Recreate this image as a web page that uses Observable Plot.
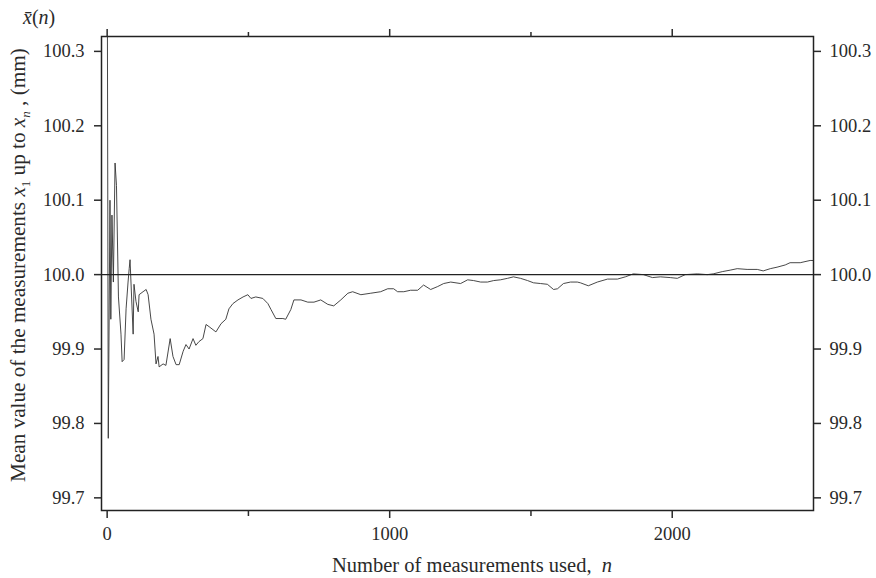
<!DOCTYPE html>
<html><head><meta charset="utf-8">
<script src="https://cdn.jsdelivr.net/npm/d3@7"></script>
<script src="https://cdn.jsdelivr.net/npm/@observablehq/plot@0.6"></script>
<style>
body{margin:0;background:#fff}
svg, svg text, svg g{font-family:"Liberation Serif","Times New Roman",serif !important}
</style>
</head><body><div id="chart"></div>
<script>
// Number of measurements used, n
const nValues = [1,4,10,13,17,22,28,33,40,49,53,60,67,74,78,81,92,95,102,110,113,127,138,145,155,166,173,180,184,198,208,223,233,244,255,269,279,290,304,314,325,339,350,361,385,403,420,431,445,463,481,498,509,526,551,569,580,597,622,632,650,661,686,710,732,756,781,802,827,852,869,898,933,968,993,1014,1028,1050,1074,1099,1120,1145,1170,1191,1216,1251,1276,1297,1322,1346,1368,1392,1417,1438,1463,1488,1509,1534,1558,1580,1594,1615,1640,1664,1675,1703,1735,1771,1806,1834,1862,1898,1930,1958,1993,2018,2046,2089,2124,2145,2177,2205,2230,2265,2301,2322,2347,2371,2400,2417,2453,2488,2498];
// Mean value of the measurements x1 ... xn (mm)
const meanValues = [100.32,99.78,100.10,99.94,100.08,99.99,100.15,100.12,99.97,99.92,99.883,99.886,99.954,99.99,100.008,100.02,99.92,99.987,99.964,99.95,99.973,99.977,99.98,99.973,99.94,99.92,99.88,99.89,99.876,99.88,99.878,99.914,99.89,99.879,99.879,99.897,99.906,99.90,99.914,99.905,99.91,99.914,99.933,99.93,99.923,99.934,99.94,99.954,99.961,99.966,99.97,99.973,99.968,99.97,99.968,99.961,99.953,99.941,99.941,99.94,99.953,99.966,99.966,99.963,99.963,99.966,99.96,99.958,99.966,99.975,99.977,99.973,99.975,99.977,99.981,99.981,99.977,99.977,99.979,99.979,99.986,99.98,99.984,99.988,99.99,99.988,99.993,99.992,99.99,99.99,99.992,99.993,99.995,99.997,99.995,99.992,99.989,99.988,99.987,99.98,99.981,99.988,99.99,99.99,99.989,99.985,99.99,99.994,99.994,99.997,100.001,100.0,99.996,99.997,99.996,99.995,100.0,100.001,100.0,100.001,100.004,100.006,100.008,100.007,100.007,100.005,100.008,100.01,100.013,100.016,100.016,100.019,100.019];
const yTicks = [99.7,99.8,99.9,100.0,100.1,100.2,100.3];
const xMajorTicks = [0,1000,2000];
const xMinorTicks = [500,1500];
const referenceLevel = [100.0];

const data = nValues.map((n,i)=>({n, mean: meanValues[i]}));
const blank = () => "";
const serif = "Liberation Serif";

const plot = Plot.plot({
  width: 876, height: 578,
  marginLeft: 101, marginRight: 63, marginTop: 36, marginBottom: 68,
  style: {fontFamily: serif, fontSize: "18.5px", color: "#2a2a2a", background: "#fff"},
  x: {domain: [-20, 2500]},
  y: {domain: [99.683, 100.32]},
  marks: [
    Plot.line(data, {x: "n", y: "mean", stroke: "#333", strokeWidth: 0.9, clip: true}),
    Plot.ruleY(referenceLevel, {stroke: "#222", strokeWidth: 1.3}),
    Plot.frame({stroke: "#222", strokeWidth: 1.5}),
    Plot.axisY(yTicks, {anchor: "left", tickSize: 7, tickPadding: 10, strokeWidth: 1.5, fontSize: 18.5, fontFamily: serif, tickFormat: d => d.toFixed(1), label: null}),
    Plot.axisY(yTicks, {anchor: "right", tickSize: 7, tickPadding: 9, strokeWidth: 1.5, fontSize: 18.5, fontFamily: serif, tickFormat: d => d.toFixed(1), label: null}),
    Plot.axisX(xMajorTicks, {anchor: "bottom", tickSize: 8, tickPadding: 8, strokeWidth: 1.5, fontSize: 18.5, fontFamily: serif, tickFormat: d => String(d), label: null}),
    Plot.axisX(xMinorTicks, {anchor: "bottom", tickSize: 6, strokeWidth: 1.5, tickFormat: blank, label: null}),
    Plot.axisX(xMajorTicks, {anchor: "top", tickSize: 8, strokeWidth: 1.5, tickFormat: blank, label: null}),
    Plot.axisX(xMinorTicks, {anchor: "top", tickSize: 5, strokeWidth: 1.5, tickFormat: blank, label: null})
  ]
});
document.getElementById("chart").appendChild(plot);

const svg = d3.select(plot);
const ys = plot.scale("y");
const yMid = ys.apply(100.0) - 9;

// y-axis title with subscripts
const yl = svg.append("text")
  .attr("transform", `translate(25,${yMid}) rotate(-90)`)
  .attr("text-anchor", "middle")
  .attr("font-family", serif)
  .attr("font-size", 21.2)
  .attr("fill", "#2a2a2a");
yl.append("tspan").text("Mean value of the measurements ");
yl.append("tspan").attr("font-style", "italic").text("x");
yl.append("tspan").attr("font-size", 13).attr("dy", 5).text("1");
yl.append("tspan").attr("dy", -5).text(" up to ");
yl.append("tspan").attr("font-style", "italic").text("x");
yl.append("tspan").attr("font-size", 13).attr("font-style", "italic").attr("dy", 5).text("n");
yl.append("tspan").attr("dy", -5).text(" , (mm)");

// x-axis title
const xl = svg.append("text")
  .attr("x", 472).attr("y", 572)
  .attr("text-anchor", "middle")
  .attr("font-family", serif)
  .attr("font-size", 20.5)
  .attr("fill", "#2a2a2a");
xl.append("tspan").text("Number of measurements used,  ");
xl.append("tspan").attr("font-style", "italic").text("n");

// top-left quantity label
const tl = svg.append("text")
  .attr("x", 23).attr("y", 24)
  .attr("text-anchor", "start")
  .attr("font-family", serif)
  .attr("font-size", 20)
  .attr("fill", "#2a2a2a");
tl.append("tspan").attr("font-style", "italic").text("x\u0304");
tl.append("tspan").text("(");
tl.append("tspan").attr("font-style", "italic").text("n");
tl.append("tspan").text(")");
</script>
</body></html>
